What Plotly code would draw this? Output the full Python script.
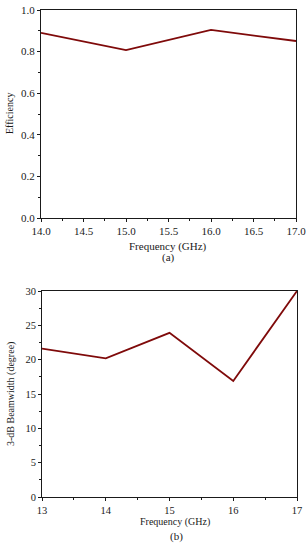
import plotly.graph_objects as go

freq_a = [14.0, 15.0, 16.0, 17.0]
eff_a = [0.89, 0.807, 0.904, 0.851]
freq_b = [13, 14, 15, 16, 17]
bw_b = [21.6, 20.2, 23.9, 16.9, 30.0]

W, H = 308, 550
red = "#7f0a0a"
font = dict(family="Liberation Serif", size=11, color="#1a1a1a")
font_b = dict(family="Liberation Serif", size=10.5, color="#1a1a1a")

def px_x(p):
    return p / W

def px_y(p):
    return 1 - p / H

fig = go.Figure()
fig.add_trace(go.Scatter(x=freq_a, y=eff_a, mode="lines", line=dict(color=red, width=1.8),
                         xaxis="x", yaxis="y", showlegend=False))
fig.add_trace(go.Scatter(x=freq_b, y=bw_b, mode="lines", line=dict(color=red, width=1.8),
                         xaxis="x2", yaxis="y2", showlegend=False))

axcommon = dict(showgrid=False, zeroline=False, showline=True, linecolor="#1a1a1a", linewidth=1,
                mirror=True, ticks="outside", ticklen=3, tickwidth=1, tickcolor="#1a1a1a",
                automargin=False)

fig.update_layout(
    width=W, height=H, margin=dict(l=0, r=0, t=0, b=0, autoexpand=False),
    paper_bgcolor="white", plot_bgcolor="white", font=font,
    xaxis=dict(domain=[px_x(41), px_x(296)], anchor="y", range=[14, 17], dtick=0.5, tickformat=".1f",
               tickfont=font,
               minor=dict(ticks="outside", ticklen=2, dtick=0.25, tickcolor="#1a1a1a"), **axcommon),
    yaxis=dict(domain=[px_y(218), px_y(10)], anchor="x", range=[0, 1], dtick=0.2, tickformat=".1f",
               tickfont=font,
               minor=dict(ticks="outside", ticklen=2, dtick=0.1, tickcolor="#1a1a1a"), **axcommon),
    xaxis2=dict(domain=[px_x(42), px_x(297)], anchor="y2", range=[13, 17], dtick=1,
                tickfont=font_b,
                minor=dict(ticks="outside", ticklen=2, dtick=0.5, tickcolor="#1a1a1a"), **axcommon),
    yaxis2=dict(domain=[px_y(497), px_y(291)], anchor="x2", range=[0, 30], dtick=5,
                tickfont=font_b,
                minor=dict(ticks="outside", ticklen=2, dtick=2.5, tickcolor="#1a1a1a"), **axcommon),
)

ann = [
    dict(text="Frequency (GHz)", x=px_x(168), y=px_y(246), size=11, angle=0),
    dict(text="(a)", x=px_x(168), y=px_y(257), size=11, angle=0),
    dict(text="Efficiency", x=px_x(9), y=px_y(114), size=10, angle=-90),
    dict(text="Frequency (GHz)", x=px_x(175), y=px_y(522), size=10, angle=0),
    dict(text="(b)", x=px_x(176), y=px_y(536), size=11, angle=0),
    dict(text="3-dB Beamwidth (degree)", x=px_x(11), y=px_y(394), size=10, angle=-90),
]
for a in ann:
    fig.add_annotation(text=a["text"], x=a["x"], y=a["y"], xref="paper", yref="paper",
                       showarrow=False, textangle=a["angle"], xanchor="center", yanchor="middle",
                       font=dict(family="Liberation Serif", size=a["size"], color="#1a1a1a"))

fig.write_html("out.html", config={"displayModeBar": False},
               post_script="document.body.style.margin='0';document.body.style.overflow='hidden';")
